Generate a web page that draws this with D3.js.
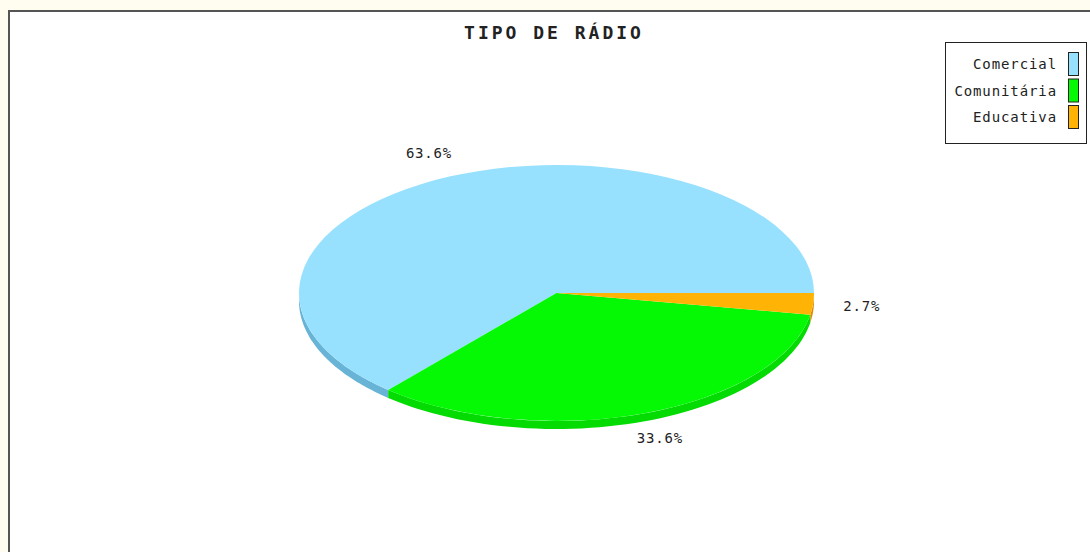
<!DOCTYPE html>
<html>
<head>
<meta charset="utf-8">
<script src="https://cdn.jsdelivr.net/npm/d3@7"></script>
<style>
  html, body { margin: 0; padding: 0; background: #fffdf0; }
  svg { display: block; }
  text { font-family: "DejaVu Sans Mono", "Liberation Mono", monospace; fill: #222; }
</style>
</head>
<body>
<div id="chart"></div>
<script>
// Chart data
const title = "TIPO DE RÁDIO";
const categories = ["Comercial", "Comunitária", "Educativa"];
const values = [63.6, 33.6, 2.7];
const colors = ["#97e1ff", "#05f905", "#ffb405"];
const sideColors = ["#68b4d6", "#03db03", "#e08a00"];

const width = 1090;
const height = 552;

const svg = d3.select("#chart")
    .append("svg")
    .attr("width", width)
    .attr("height", height);

// white plot frame with dark border (runs off the right and bottom)
svg.append("rect")
    .attr("x", 9)
    .attr("y", 11)
    .attr("width", width + 20)
    .attr("height", height + 20)
    .attr("fill", "#fff")
    .attr("stroke", "#555")
    .attr("stroke-width", 2);

// Title
svg.append("text")
    .attr("x", 554)
    .attr("y", 39)
    .attr("text-anchor", "middle")
    .attr("font-size", "18px")
    .attr("font-weight", "bold")
    .attr("letter-spacing", "3px")
    .text(title);

// Pie geometry
const cx = 556.5, cy = 293;
const rx = 257.5, ry = 128;
const depth = 8;

const pie = d3.pie()
    .sort(null)
    .value(d => d)
    .startAngle(Math.PI / 2)
    .endAngle(Math.PI / 2 - 2 * Math.PI);

const arcs = pie(values);

// screen point on the ellipse for a d3 angle
function pt(a, dy) {
    return [cx + rx * Math.sin(a), cy - ry * Math.cos(a) + (dy || 0)];
}

// 3D side walls (only the front half is visible)
const sides = svg.append("g");
arcs.forEach((d, i) => {
    const lo = Math.min(d.startAngle, d.endAngle);
    const hi = Math.max(d.startAngle, d.endAngle);
    for (let k = -2; k <= 1; k++) {
        const f0 = Math.PI / 2 + 2 * Math.PI * k;
        const f1 = 3 * Math.PI / 2 + 2 * Math.PI * k;
        const t0 = Math.max(lo, f0), t1 = Math.min(hi, f1);
        if (t1 <= t0) continue;
        const n = 60;
        const top = d3.range(n + 1).map(j => pt(t0 + (t1 - t0) * j / n));
        const bottom = d3.range(n + 1).map(j => pt(t1 - (t1 - t0) * j / n, depth));
        sides.append("path")
            .attr("d", d3.line()(top.concat(bottom)) + "Z")
            .attr("fill", sideColors[i]);
    }
});

// Top faces: circular arcs squashed into an ellipse
const arc = d3.arc().innerRadius(0).outerRadius(rx);
const topG = svg.append("g")
    .attr("transform", `translate(${cx},${cy}) scale(1,${ry / rx})`);
topG.selectAll("path")
    .data(arcs)
    .enter()
    .append("path")
    .attr("d", arc)
    .attr("fill", (d, i) => colors[i]);

// Percentage labels
const mid = d => (d.startAngle + d.endAngle) / 2;
svg.selectAll("text.pct")
    .data(arcs)
    .enter()
    .append("text")
    .attr("class", "pct")
    .attr("font-size", "14px")
    .attr("letter-spacing", "0.8px")
    .attr("text-anchor", "middle")
    .attr("x", d => cx + 1.19 * rx * Math.sin(mid(d)))
    .attr("y", d => cy - 1.2 * ry * Math.cos(mid(d)) + 5)
    .text(d => d.value.toFixed(1) + "%");

// Legend
const legend = svg.append("g");
legend.append("rect")
    .attr("x", 945.5)
    .attr("y", 42.5)
    .attr("width", 141)
    .attr("height", 101)
    .attr("fill", "#fff")
    .attr("stroke", "#222")
    .attr("stroke-width", 1);

const rowY = d3.scalePoint()
    .domain(categories)
    .range([64, 117]);

categories.forEach((c, i) => {
    legend.append("text")
        .attr("x", 1057)
        .attr("y", rowY(c) + 5)
        .attr("text-anchor", "end")
        .attr("font-size", "14px")
        .attr("letter-spacing", "0.9px")
        .text(c);
    legend.append("rect")
        .attr("x", 1068.5)
        .attr("y", rowY(c) - 11.5)
        .attr("width", 10)
        .attr("height", 23)
        .attr("fill", colors[i])
        .attr("stroke", "#222")
        .attr("stroke-width", 1);
});
</script>
</body>
</html>
